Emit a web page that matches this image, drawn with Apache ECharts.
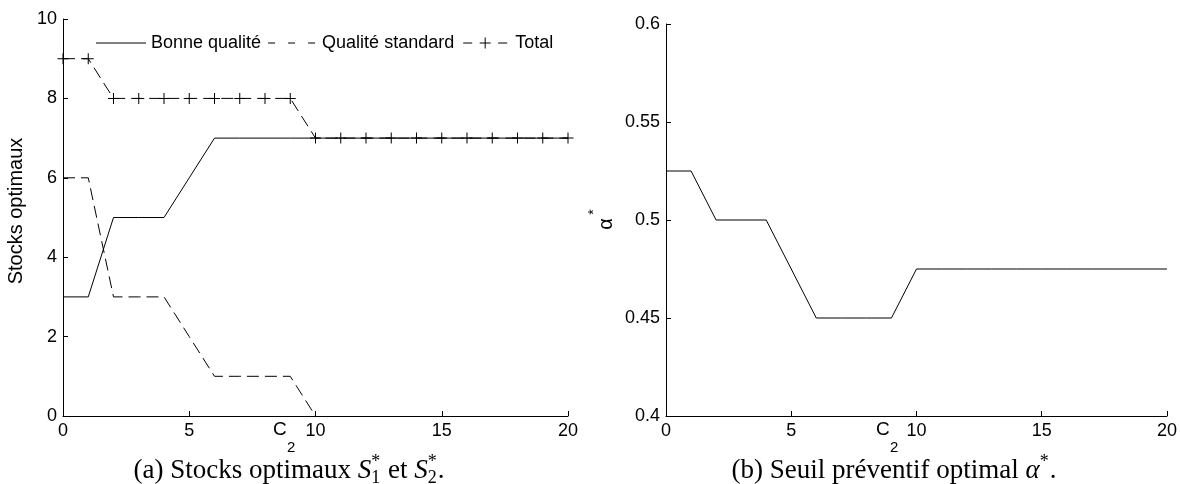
<!DOCTYPE html>
<html>
<head>
<meta charset="utf-8">
<script src="https://cdn.jsdelivr.net/npm/echarts@6/dist/echarts.min.js"></script>
<style>
html,body{margin:0;padding:0;background:#fff;}
#main{width:1180px;height:484px;}
</style>
</head>
<body>
<div id="main"></div>
<script>
// ---- Data ----
const c2 = [0,1,2,3,4,5,6,7,8,9,10,11,12,13,14,15,16,17,18,19,20];
const bonneQualite   = [3,3,5,5,5,6,7,7,7,7,7,7,7,7,7,7,7,7,7,7,7];
const qualiteStandard = [6,6,3,3,3,2,1,1,1,1,0];
const total          = [9,9,8,8,8,8,8,8,8,8,7,7,7,7,7,7,7,7,7,7,7];
const alphaOpt       = [0.525,0.525,0.5,0.5,0.5,0.475,0.45,0.45,0.45,0.45,0.475,0.475,0.475,0.475,0.475,0.475,0.475,0.475,0.475,0.475,0.475];
const seriesNames = ['Bonne qualité', 'Qualité standard', 'Total'];
const xTickInterval = 5;
const yTickIntervalA = 2;
const yTickIntervalB = 0.05;

const pairs = arr => arr.map((v,i) => [c2[i], v]);

const SANS = 'Liberation Sans';
const SERIF = 'Liberation Serif';
const PLUS = 'path://M0,5.45 L12,5.45 L12,6.55 L0,6.55 Z M5.45,0 L6.55,0 L6.55,12 L5.45,12 Z';

// legend icons (50x12 box, corners pinned with tiny triangles)
const BOX = 'M0,0 L0.01,0 L0,0.01 Z M50,12 L49.99,12 L50,11.99 Z ';
const ICON_SOLID = 'path://' + BOX + 'M0,5.5 L50,5.5 L50,6.5 L0,6.5 Z';
const ICON_DASH  = 'path://' + BOX + 'M1,5.5 L8,5.5 L8,6.5 L1,6.5 Z M21,5.5 L28,5.5 L28,6.5 L21,6.5 Z M41,5.5 L48,5.5 L48,6.5 L41,6.5 Z';
const ICON_TOTAL = 'path://' + BOX + 'M3,5.5 L12,5.5 L12,6.5 L3,6.5 Z M38,5.5 L47,5.5 L47,6.5 L38,6.5 Z M19.5,5.5 L30.5,5.5 L30.5,6.5 L19.5,6.5 Z M24.5,0.5 L25.5,0.5 L25.5,11.5 L24.5,11.5 Z';

const chart = echarts.init(document.getElementById('main'), null, {renderer:'canvas'});

function axisCommon(){
  return {
    axisLine:{show:true, lineStyle:{color:'#000', width:1}},
    axisTick:{show:true, inside:true, length:5, lineStyle:{color:'#000', width:1}},
    axisLabel:{color:'#000', fontSize:18, fontFamily:SANS, margin:6},
    splitLine:{show:false}
  };
}

// caption builder using text measurement
const mctx = document.createElement('canvas').getContext('2d');
function measure(t, font){ mctx.font = font; return mctx.measureText(t).width; }
function caption(cx, cy, parts){
  let w = 0;
  parts.forEach(p => {
    if (p.t !== undefined) { p.w = measure(p.t, p.font); }
    else { p.w = Math.max(measure(p.sup||'', p.font), measure(p.sub||'', p.font)) + 1; }
    w += p.w;
  });
  let x = cx - w/2;
  const children = [];
  parts.forEach(p => {
    if (p.t !== undefined) {
      children.push({type:'text', x:x, y:cy, style:{text:p.t, font:p.font, fill:'#000', textAlign:'left', textVerticalAlign:'middle'}});
    } else {
      if (p.sup) children.push({type:'text', x:x, y:cy-9, style:{text:p.sup, font:p.font, fill:'#000', textAlign:'left', textVerticalAlign:'middle'}});
      if (p.sub) children.push({type:'text', x:x, y:cy+7, style:{text:p.sub, font:p.font, fill:'#000', textAlign:'left', textVerticalAlign:'middle'}});
    }
    x += p.w;
  });
  return {type:'group', children};
}
const capFont = '27px ' + SERIF;
const capIt = 'italic 27px ' + SERIF;
const capSmall = '18px ' + SERIF;

const graphics = [
  {type:'text', x:16, y:211, rotation:Math.PI/2, style:{text:'Stocks optimaux', font:'20px '+SANS, fill:'#000', textAlign:'center', textVerticalAlign:'middle'}},
  {type:'text', x:273, y:430, style:{text:'C', font:'19px '+SANS, fill:'#000', textAlign:'left', textVerticalAlign:'middle'}},
  {type:'text', x:287, y:448, style:{text:'2', font:'15px '+SANS, fill:'#000', textAlign:'left', textVerticalAlign:'middle'}},
  {type:'text', x:876, y:430, style:{text:'C', font:'19px '+SANS, fill:'#000', textAlign:'left', textVerticalAlign:'middle'}},
  {type:'text', x:890, y:448, style:{text:'2', font:'15px '+SANS, fill:'#000', textAlign:'left', textVerticalAlign:'middle'}},
  {type:'text', x:606, y:224, rotation:Math.PI/2, style:{text:'α', font:'20px '+SANS, fill:'#000', textAlign:'center', textVerticalAlign:'middle'}},
  {type:'text', x:594, y:212, rotation:Math.PI/2, style:{text:'*', font:'14px '+SANS, fill:'#000', textAlign:'center', textVerticalAlign:'middle'}},
  caption(289, 471, [
    {t:'(a) Stocks optimaux ', font:capFont},
    {t:'S', font:capIt},
    {sup:'*', sub:'1', font:capSmall},
    {t:' et ', font:capFont},
    {t:'S', font:capIt},
    {sup:'*', sub:'2', font:capSmall},
    {t:'.', font:capFont}
  ]),
  caption(894, 471, [
    {t:'(b) Seuil préventif optimal ', font:capFont},
    {t:'α', font:capIt},
    {sup:'*', font:capSmall},
    {t:'.', font:capFont}
  ])
];

const option = {
  backgroundColor:'#fff',
  animation:false,
  grid:[
    {left:63, top:19, width:505, height:397},
    {left:666, top:24, width:504, height:392}
  ],
  legend:{
    left:91, top:29, padding:5,
    itemWidth:50, itemHeight:12, itemGap:6,
    textStyle:{color:'#000', fontSize:18, fontFamily:SANS},
    itemStyle:{color:'#000', borderWidth:0},
    data:[
      {name:seriesNames[0], icon:ICON_SOLID},
      {name:seriesNames[1], icon:ICON_DASH},
      {name:seriesNames[2], icon:ICON_TOTAL}
    ]
  },
  xAxis:[
    Object.assign({gridIndex:0, type:'value', min:0, max:20, interval:xTickInterval}, axisCommon()),
    Object.assign({gridIndex:1, type:'value', min:0, max:20, interval:xTickInterval}, axisCommon())
  ],
  yAxis:[
    Object.assign({gridIndex:0, type:'value', min:0, max:10, interval:yTickIntervalA}, axisCommon()),
    (function(){
      const a = Object.assign({gridIndex:1, type:'value', min:0.4, max:0.6, interval:yTickIntervalB}, axisCommon());
      a.axisLabel = Object.assign({}, a.axisLabel, {formatter: v => String(parseFloat(v.toFixed(3)))});
      return a;
    })()
  ],
  graphic: graphics,
  series:[
    {name:seriesNames[0], type:'line', xAxisIndex:0, yAxisIndex:0, data:pairs(bonneQualite),
     symbol:'none', lineStyle:{color:'#000', width:1, type:'solid'}, itemStyle:{color:'#000'}},
    {name:seriesNames[1], type:'line', xAxisIndex:0, yAxisIndex:0, data:pairs(qualiteStandard),
     symbol:'none', lineStyle:{color:'#000', width:1, type:[12,6]}, itemStyle:{color:'#000'}},
    {name:seriesNames[2], type:'line', xAxisIndex:0, yAxisIndex:0, data:pairs(total),
     symbol:PLUS, symbolSize:11, showAllSymbol:true,
     lineStyle:{color:'#000', width:1, type:[12,6]}, itemStyle:{color:'#000', borderWidth:0}},
    {name:'alpha', type:'line', xAxisIndex:1, yAxisIndex:1, data:pairs(alphaOpt),
     symbol:'none', lineStyle:{color:'#000', width:1}, itemStyle:{color:'#000'}}
  ]
};
chart.setOption(option);
</script>
</body>
</html>
